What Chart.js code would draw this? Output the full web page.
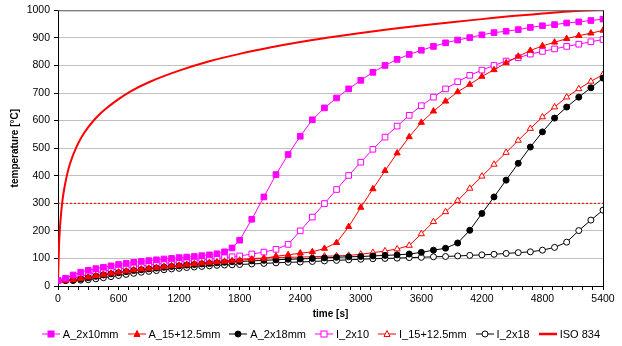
<!DOCTYPE html>
<html>
<head>
<meta charset="utf-8">
<script src="https://cdn.jsdelivr.net/npm/chart.js@4"></script>
<style>
    html, body { margin: 0; padding: 0; background: #fff; }
    #wrap { position: relative; width: 622px; height: 346px; }
    #legend {
        position: absolute; left: 0; top: 327px; width: 600px; height: 14px;
        display: flex; justify-content: flex-end; align-items: center;
        font-family: "Liberation Sans", Arial, sans-serif; font-size: 11px; color: #000;
    }
    #legend .item { display: flex; align-items: center; margin-left: 9px; white-space: nowrap; }
    #legend svg { margin-right: 3px; }
</style>
</head>
<body>
<div id="wrap">
    <canvas id="chart"></canvas>
    <div id="legend"></div>
</div>
<script>
// measurement times [s]
const TIME = [0, 75, 150, 225, 300, 375, 450, 525, 600, 675, 750, 825, 900, 975, 1050, 1125, 1200, 1275, 1350, 1425, 1500, 1575, 1650, 1725, 1800,
    1920, 2040, 2160, 2280, 2400, 2520, 2640, 2760, 2880, 3000, 3120, 3240, 3360, 3480, 3600, 3720, 3840, 3960, 4080, 4200, 4320, 4440, 4560, 4680, 4800, 4920, 5040, 5160, 5280, 5400]

const A_2X10 = [20, 28, 40, 50, 57, 63, 68, 73, 78, 82, 86, 89, 92, 95, 98, 100, 103, 105, 107, 110, 113, 117, 124, 138, 166,
    242, 323, 404, 477, 543, 603, 646, 682, 715, 746, 775, 800, 822, 840, 855, 869, 882, 892, 901, 911, 919, 924, 930, 938, 944, 948, 954, 958, 963, 968]
const A_15 = [20, 20, 22, 27, 32, 37, 42, 46, 50, 54, 58, 61, 64, 67, 70, 73, 75, 78, 80, 83, 85, 87, 89, 91, 93,
    97, 100, 108, 113, 119, 124, 136, 157, 215, 285, 352, 418, 482, 541, 593, 634, 670, 704, 731, 760, 784, 809, 833, 854, 871, 884, 897, 908, 917, 927]
const A_2X18 = [20, 20, 21, 25, 30, 35, 40, 44, 48, 52, 56, 59, 62, 65, 68, 71, 73, 76, 78, 80, 82, 84, 86, 88, 89,
    91, 93, 95, 97, 98, 100, 102, 104, 106, 107, 109, 111, 113, 116, 122, 130, 137, 156, 202, 263, 323, 384, 445, 504, 559, 609, 649, 685, 719, 754]
const I_2X10 = [20, 22, 28, 35, 42, 48, 53, 58, 62, 66, 70, 73, 76, 79, 82, 85, 88, 90, 92, 95, 97, 100, 103, 106, 109,
    116, 123, 133, 151, 200, 250, 299, 350, 401, 449, 496, 540, 580, 619, 654, 685, 715, 741, 764, 783, 800, 816, 828, 841, 851, 860, 869, 877, 886, 894]
const I_15 = [20, 20, 22, 27, 32, 37, 42, 46, 50, 54, 58, 61, 64, 67, 70, 73, 76, 79, 81, 84, 86, 89, 91, 94, 96,
    100, 101, 103, 104, 105, 106, 108, 109, 111, 115, 121, 127, 134, 147, 189, 233, 269, 310, 354, 398, 441, 484, 528, 571, 613, 649, 685, 715, 742, 767]
const I_2X18 = [20, 20, 20, 21, 23, 26, 30, 34, 38, 42, 46, 50, 53, 56, 59, 62, 64, 67, 69, 71, 73, 75, 76, 77, 78,
    80, 82, 84, 86, 87, 89, 91, 93, 95, 97, 99, 100, 101, 103, 104, 106, 107, 109, 111, 113, 115, 118, 121, 124, 130, 140, 159, 201, 239, 275]

// ISO 834 standard fire curve
const ISO_TIME = [0, 10, 20, 30, 45, 60, 90, 120, 180, 240, 300, 360, 420, 480, 600, 720, 900, 1200, 1500, 1800, 2100, 2400, 2700, 3000, 3300, 3600, 3900, 4200, 4500, 4800, 5100, 5400]
const ISO_TEMP = [20, 147, 215, 261, 312, 349, 404, 445, 502, 544, 576, 603, 626, 645, 678, 706, 739, 781, 815, 842, 865, 885, 902, 918, 932, 945, 957, 968, 979, 988, 997, 1002]

// 300 °C limit line
const LIMIT_TIME = [0, 5400]
const LIMIT_TEMP = [300, 300]

const X_TICKS = [0, 600, 1200, 1800, 2400, 3000, 3600, 4200, 4800, 5400]

const toPoints = (xs, ys) => xs.map((x, i) => ({ x: x, y: ys[i] }))

const series = [
    { label: 'A_2x10mm', data: A_2X10, color: '#ff00ff', style: 'rect', fill: true },
    { label: 'A_15+12.5mm', data: A_15, color: '#ff0000', style: 'triangle', fill: true },
    { label: 'A_2x18mm', data: A_2X18, color: '#000000', style: 'circle', fill: true },
    { label: 'I_2x10', data: I_2X10, color: '#ff00ff', style: 'rect', fill: false },
    { label: 'I_15+12.5mm', data: I_15, color: '#ff0000', style: 'triangle', fill: false },
    { label: 'I_2x18', data: I_2X18, color: '#000000', style: 'circle', fill: false },
]

const radiusFor = (style) => (style === 'rect' ? 4 : style === 'triangle' ? 3.6 : 3)

const datasets = series.map((s) => ({
    label: s.label,
    data: toPoints(TIME, s.data),
    borderColor: s.color,
    backgroundColor: s.color,
    borderWidth: 1,
    pointStyle: s.style,
    pointRadius: radiusFor(s.style),
    pointBorderColor: s.color,
    pointBackgroundColor: s.fill ? s.color : '#ffffff',
    pointBorderWidth: 1,
    tension: 0,
}))

datasets.push({
    label: 'ISO 834',
    data: toPoints(ISO_TIME, ISO_TEMP),
    borderColor: '#ff0000',
    borderWidth: 2,
    pointRadius: 0,
    cubicInterpolationMode: 'monotone',
})

datasets.push({
    label: 'limit',
    data: toPoints(LIMIT_TIME, LIMIT_TEMP),
    borderColor: '#ff0000',
    borderWidth: 1,
    borderDash: [2, 2],
    pointRadius: 0,
})

const FONT = "'Liberation Sans', Arial, sans-serif"

// frame around the plot area (top edge grey, right edge black)
const framePlugin = {
    id: 'frame',
    afterDatasetsDraw(chart) {
        const { ctx, chartArea: a } = chart
        ctx.save()
        ctx.lineWidth = 1
        ctx.strokeStyle = '#606060'
        ctx.beginPath()
        ctx.moveTo(a.left, a.top + 0.5)
        ctx.lineTo(a.right, a.top + 0.5)
        ctx.stroke()
        ctx.strokeStyle = '#000'
        ctx.beginPath()
        ctx.moveTo(a.right + 0.5, a.top)
        ctx.lineTo(a.right + 0.5, a.bottom)
        ctx.stroke()
        ctx.restore()
    },
}

new Chart(document.getElementById('chart'), {
    type: 'line',
    data: { datasets: datasets },
    options: {
        responsive: true,
        maintainAspectRatio: false,
        animation: false,
        layout: { padding: { left: 5, right: 19, top: 10, bottom: 26 } },
        plugins: {
            legend: { display: false },
            tooltip: { enabled: false },
        },
        scales: {
            x: {
                type: 'linear',
                min: 0,
                max: 5400,
                afterFit: (scale) => { scale.height = 34 },
                ticks: {
                    stepSize: 100,
                    autoSkip: false,
                    maxRotation: 0,
                    padding: 3,
                    color: '#000',
                    font: { family: FONT, size: 10.5 },
                    callback: (v) => (X_TICKS.includes(v) ? String(v) : ''),
                },
                grid: { drawOnChartArea: false, drawTicks: true, tickLength: 4, color: '#000' },
                border: { color: '#000', width: 1 },
                title: {
                    display: true,
                    text: 'time [s]',
                    color: '#000',
                    font: { family: FONT, size: 10, weight: 'bold' },
                    padding: { top: 0, bottom: 0 },
                },
            },
            y: {
                min: 0,
                max: 1000,
                afterFit: (scale) => { scale.width = 53 },
                ticks: {
                    stepSize: 100,
                    padding: 4,
                    color: '#000',
                    font: { family: FONT, size: 10.5 },
                    callback: (v) => String(v),
                },
                grid: { color: '#c0c0c0', lineWidth: 1, tickColor: '#000', tickLength: 4 },
                border: { color: '#000', width: 1 },
                title: {
                    display: true,
                    text: 'temperature [°C]',
                    color: '#000',
                    font: { family: FONT, size: 10, weight: 'bold' },
                    padding: { top: 4, bottom: 0 },
                },
            },
        },
    },
    plugins: [framePlugin],
})

// legend: line with marker, like the original
const legendEl = document.getElementById('legend')
const legendItems = series.concat([{ label: 'ISO 834', color: '#ff0000', style: 'none' }])
legendItems.forEach((s) => {
    let marker = ''
    const fill = s.fill ? s.color : '#ffffff'
    if (s.style === 'rect') {
        marker = `<rect x="6" y="3" width="6" height="6" fill="${fill}" stroke="${s.color}" stroke-width="1"/>`
    } else if (s.style === 'triangle') {
        marker = `<polygon points="9,2.5 12,8.5 6,8.5" fill="${fill}" stroke="${s.color}" stroke-width="1"/>`
    } else if (s.style === 'circle') {
        marker = `<circle cx="9" cy="6" r="3" fill="${fill}" stroke="${s.color}" stroke-width="1"/>`
    }
    const lw = s.style === 'none' ? 2.5 : 1
    const item = document.createElement('span')
    item.className = 'item'
    item.innerHTML = `<svg width="18" height="12"><line x1="0" y1="6" x2="18" y2="6" stroke="${s.color}" stroke-width="${lw}"/>${marker}</svg>${s.label}`
    legendEl.appendChild(item)
})
</script>
</body>
</html>
